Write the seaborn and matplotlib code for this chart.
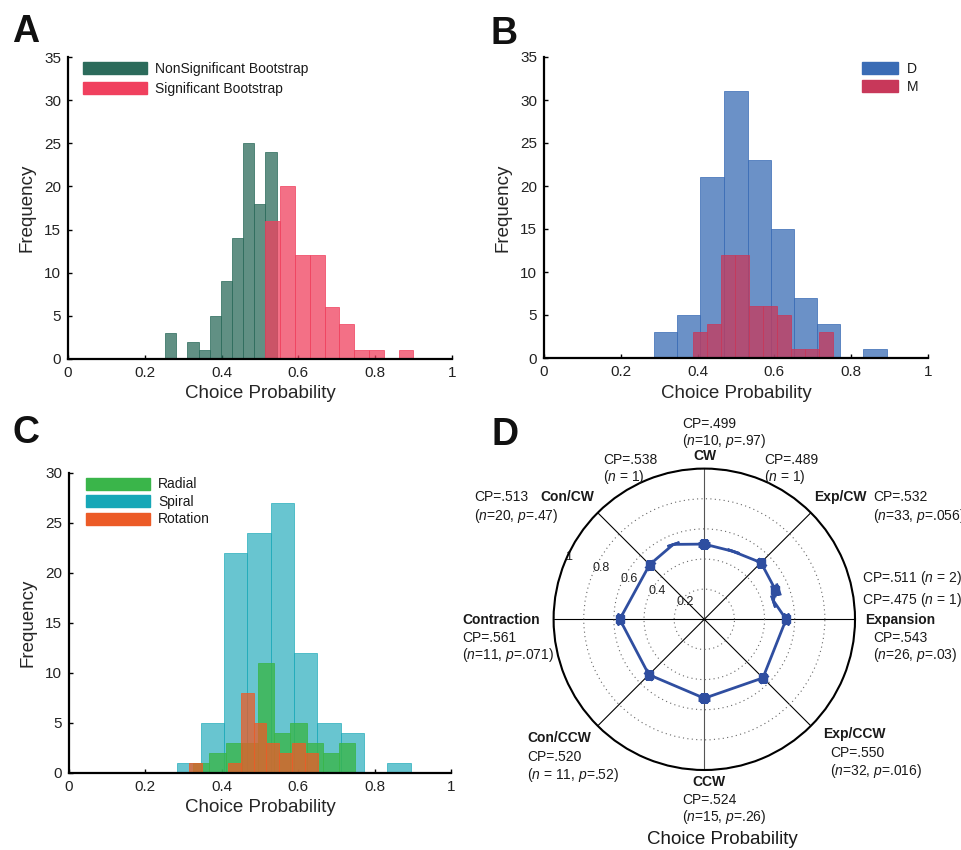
import numpy as np
import matplotlib
matplotlib.use("Agg")
import matplotlib.pyplot as plt
from matplotlib.colors import to_rgba
from matplotlib.patches import Patch
import seaborn as sns

W, H = 961, 850

# A: bootstrap significance
a_nonsig_edges = [0.253, 0.282, 0.311, 0.340, 0.369, 0.398, 0.427, 0.456, 0.485, 0.514, 0.544]
a_nonsig_counts = [3, 0, 2, 1, 5, 9, 14, 25, 18, 24]
a_sig_edges = [0.514, 0.553, 0.591, 0.630, 0.668, 0.707, 0.745, 0.784, 0.822, 0.861, 0.899]
a_sig_counts = [16, 20, 12, 12, 6, 4, 1, 1, 0, 1]

# B: monkeys D and M
b_d_edges = [0.286, 0.346, 0.407, 0.468, 0.530, 0.591, 0.652, 0.712, 0.771, 0.832, 0.893]
b_d_counts = [3, 5, 21, 31, 23, 15, 7, 4, 0, 1]
b_m_edges = [0.387, 0.424, 0.460, 0.497, 0.533, 0.570, 0.606, 0.643, 0.679, 0.716, 0.752]
b_m_counts = [3, 4, 12, 12, 6, 6, 5, 1, 1, 3]

# C: stimulus type
c_spiral_edges = [0.284, 0.345, 0.406, 0.467, 0.528, 0.589, 0.650, 0.711, 0.772, 0.833, 0.894]
c_spiral_counts = [1, 5, 22, 24, 27, 12, 5, 4, 0, 1]
c_radial_edges = [0.325, 0.367, 0.410, 0.452, 0.494, 0.537, 0.579, 0.622, 0.664, 0.707, 0.749]
c_radial_counts = [1, 2, 3, 3, 11, 4, 5, 3, 2, 3]
c_rot_edges = [0.314, 0.348, 0.382, 0.415, 0.449, 0.483, 0.517, 0.550, 0.584, 0.618, 0.651]
c_rot_counts = [1, 0, 0, 1, 8, 5, 3, 2, 3, 2]

# D: CP by preferred direction (polar)
d_angle_deg = [0, 15, 22.5, 45, 67.5, 90, 112.5, 135, 180, 225, 270, 315]
d_cp = [0.543, 0.475, 0.511, 0.532, 0.489, 0.499, 0.538, 0.513, 0.561, 0.520, 0.524, 0.550]
d_sem = [0.012, 0.0, 0.015, 0.010, 0.0, 0.010, 0.0, 0.010, 0.012, 0.012, 0.010, 0.010]

GREEN_DK = "#2c6b5b"
PINK = "#f0405e"
BLUE = "#3a6cb5"
CRIMSON = "#c8385a"
RADIAL = "#3ab54a"
SPIRAL = "#17a7b7"
ROT = "#ec5b27"
LINE_BLUE = "#2f4ea0"

sns.set_theme(style="ticks")
plt.rcParams["font.family"] = ["Liberation Sans", "DejaVu Sans"]
plt.rcParams["mathtext.fontset"] = "custom"
plt.rcParams["mathtext.rm"] = "Liberation Sans"
plt.rcParams["mathtext.it"] = "Liberation Sans:italic"
plt.rcParams["xtick.direction"] = "in"
plt.rcParams["ytick.direction"] = "in"
plt.rcParams["text.color"] = "#1a1a1a"


def px_box(left, top, right, bottom):
    return [left / W, 1 - bottom / H, (right - left) / W, (bottom - top) / H]


def hist(ax, edges, counts, color, alpha):
    centers = (np.array(edges[:-1]) + np.array(edges[1:])) / 2
    sns.histplot(x=centers, weights=counts, bins=edges, ax=ax,
                 facecolor=to_rgba(color, alpha),
                 edgecolor=to_rgba(color, min(1.0, alpha + 0.1)), linewidth=0.6)


def style_hist(ax, ymax):
    ax.set_xlim(0, 1)
    ax.set_ylim(0, ymax)
    ax.set_xticks(np.linspace(0, 1, 6))
    ax.set_xticklabels(["0", "0.2", "0.4", "0.6", "0.8", "1"])
    ax.set_yticks(range(0, ymax + 1, 5))
    sns.despine(ax=ax)
    for s in ("left", "bottom"):
        ax.spines[s].set_linewidth(1.6)
        ax.spines[s].set_color("black")
    ax.tick_params(length=3, width=1, labelsize=11, pad=5, colors="black",
                   labelcolor="#222")
    ax.set_xlabel("Choice Probability", fontsize=13.5, labelpad=4)
    ax.set_ylabel("Frequency", fontsize=13.5, labelpad=6)


def legend(ax, colors, labels, anchor, hl, spacing):
    handles = [Patch(facecolor=c, edgecolor=c) for c in colors]
    ax.legend(handles, labels, loc="upper left", bbox_to_anchor=anchor,
              frameon=False, fontsize=10, handlelength=hl, handleheight=0.95,
              handletextpad=0.6, labelspacing=spacing, borderpad=0,
              borderaxespad=0)


fig = plt.figure(figsize=(W / 100, H / 100), dpi=100)

# ---- A
axA = fig.add_axes(px_box(68, 57, 452, 359))
hist(axA, a_nonsig_edges, a_nonsig_counts, GREEN_DK, 0.75)
hist(axA, a_sig_edges, a_sig_counts, PINK, 0.75)
style_hist(axA, 35)
legend(axA, [GREEN_DK, PINK], ["NonSignificant Bootstrap", "Significant Bootstrap"],
       (0.039, 0.985), 4.6, 0.45)

# ---- B
axB = fig.add_axes(px_box(544, 57, 928, 358))
hist(axB, b_d_edges, b_d_counts, BLUE, 0.75)
hist(axB, b_m_edges, b_m_counts, CRIMSON, 0.75)
style_hist(axB, 35)
legend(axB, [BLUE, CRIMSON], ["D", "M"], (0.828, 0.985), 2.6, 0.3)

# ---- C
axC = fig.add_axes(px_box(69, 473, 451, 773))
hist(axC, c_spiral_edges, c_spiral_counts, SPIRAL, 0.65)
hist(axC, c_radial_edges, c_radial_counts, RADIAL, 0.8)
hist(axC, c_rot_edges, c_rot_counts, ROT, 0.75)
style_hist(axC, 30)
legend(axC, [RADIAL, SPIRAL, ROT], ["Radial", "Spiral", "Rotation"],
       (0.0445, 0.985), 4.6, 0.25)

# ---- D (polar)
pax = fig.add_axes(px_box(553.6, 468.6, 855, 770), projection="polar")
theta = np.deg2rad(d_angle_deg)
cp = np.array(d_cp)
sem = np.array(d_sem)
pax.set_axisbelow(True)
sns.lineplot(x=np.append(theta, theta[0]), y=np.append(cp, cp[0]), sort=False,
             estimator=None, ax=pax, color=LINE_BLUE, linewidth=2)
pax.errorbar(theta, cp, yerr=sem, fmt="none", ecolor=LINE_BLUE, elinewidth=2,
             capsize=4.5, capthick=2)
has_err = sem > 0
pax.plot(theta[has_err], cp[has_err], "s", ms=5.5, color=LINE_BLUE)
pax.set_xlabel("")
pax.set_ylabel("")
pax.set_thetagrids(np.arange(0, 360, 45), labels=[""] * 8)
pax.set_rgrids([0.2, 0.4, 0.6, 0.8, 1.0], labels=["0.2", "0.4", "0.6", "0.8", "1"],
               angle=158, fontsize=9)
pax.set_ylim(0, 1)
pax.grid(True)
pax.yaxis.grid(True, linestyle=(0, (1, 3)), color="#666666", linewidth=0.8)
pax.xaxis.grid(True, linestyle="-", color="black", linewidth=0.8)
for i, gl in enumerate(pax.xaxis.get_gridlines()):
    if i in (2, 6):
        gl.set_color("#555555")
pax.spines["polar"].set_linewidth(1.5)
pax.spines["polar"].set_color("black")
pax.tick_params(axis="y", labelcolor="#222")

# direction annotations (left x px, centre y px, text, bold)
d_notes = [
    (682, 424, "CP=.499", False),
    (682, 441, r"($\mathit{n}$=10, $\mathit{p}$=.97)", False),
    (693, 456, "CW", True),
    (603, 460, "CP=.538", False),
    (603, 477, r"($\mathit{n}$ = 1)", False),
    (764, 460, "CP=.489", False),
    (764, 477, r"($\mathit{n}$ = 1)", False),
    (474, 497, "CP=.513", False),
    (540, 497, "Con/CW", True),
    (474, 516, r"($\mathit{n}$=20, $\mathit{p}$=.47)", False),
    (814, 497, "Exp/CW", True),
    (873, 497, "CP=.532", False),
    (873, 516, r"($\mathit{n}$=33, $\mathit{p}$=.056)", False),
    (862, 578, r"CP=.511 ($\mathit{n}$ = 2)", False),
    (862, 600, r"CP=.475 ($\mathit{n}$ = 1)", False),
    (865, 620, "Expansion", True),
    (873, 638, "CP=.543", False),
    (873, 655, r"($\mathit{n}$=26, $\mathit{p}$=.03)", False),
    (462, 620, "Contraction", True),
    (462, 638, "CP=.561", False),
    (462, 655, r"($\mathit{n}$=11, $\mathit{p}$=.071)", False),
    (527, 738, "Con/CCW", True),
    (527, 757, "CP=.520", False),
    (527, 775, r"($\mathit{n}$ = 11, $\mathit{p}$=.52)", False),
    (823, 734, "Exp/CCW", True),
    (830, 753, "CP=.550", False),
    (830, 771, r"($\mathit{n}$=32, $\mathit{p}$=.016)", False),
    (692, 782, "CCW", True),
    (682, 800, "CP=.524", False),
    (682, 817, r"($\mathit{n}$=15, $\mathit{p}$=.26)", False),
]
for x, y, txt, bold in d_notes:
    fig.text(x / W, 1 - y / H, txt, ha="left", va="center", fontsize=10,
             fontweight="bold" if bold else "normal")
fig.text(722 / W, 1 - 840 / H, "Choice Probability", ha="center", va="center",
         fontsize=13.5)

# panel letters
for x, y, letter in [(12, 42, "A"), (490, 44, "B"), (12, 443, "C"), (491, 445, "D")]:
    fig.text(x / W, 1 - y / H, letter, ha="left", va="baseline", fontsize=27,
             fontweight="bold", color="#111")

fig.savefig("out.png", dpi=100)
